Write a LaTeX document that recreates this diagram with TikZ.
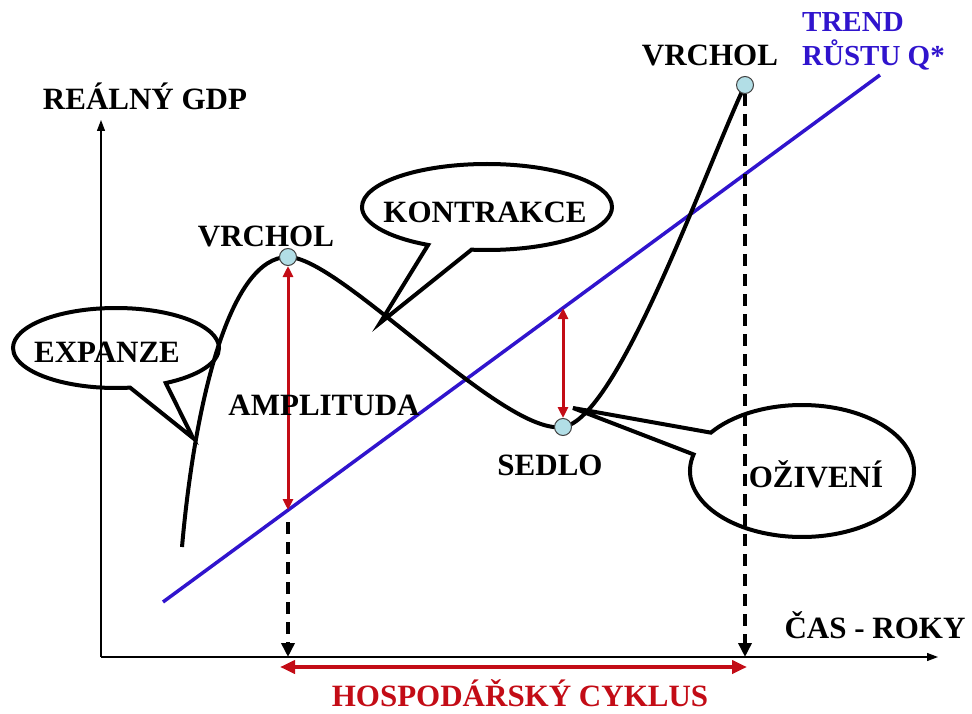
\documentclass[tikz,border=0pt]{standalone}
\usepackage{fontspec}
\setmainfont{Liberation Serif}
\usetikzlibrary{arrows.meta,shapes.callouts}
\definecolor{trendmodra}{RGB}{48,20,205}
\definecolor{cyklcervena}{RGB}{195,12,22}
\definecolor{bodmodra}{RGB}{178,222,230}
\tikzset{
  popis/.style={font=\fontsize{31}{33}\selectfont\bfseries, text height=21pt, text depth=0pt, inner sep=0pt},
  bublina/.style={ellipse callout, draw, line width=4pt, fill=white, callout pointer arc=21, inner sep=0pt},
  bod/.style={circle, draw=black!75, fill=bodmodra, line width=1pt, minimum size=17pt, inner sep=0pt},
  osa/.style={line width=1.2pt, -{Triangle[length=11pt,width=8pt]}},
  cervsipka/.style={cyklcervena, line width=3pt, {Triangle[length=11pt,width=10pt]}-{Triangle[length=11pt,width=10pt]}},
  carkovana/.style={line width=3.5pt, dash pattern=on 12pt off 8pt, -{Triangle[length=14pt,width=13pt]}}
}
\begin{document}
\begin{tikzpicture}[x=1pt, y=-1pt]
    \useasboundingbox (0,0) rectangle (972,714);

    % Body
    \coordinate (pocatek) at (101,657);
    \coordinate (yKonec) at (101,120);
    \coordinate (xKonec) at (938,657);
    \coordinate (trendA) at (163,602);
    \coordinate (trendB) at (880,75);
    \coordinate (amplDole) at (288,510);
    \coordinate (sedloNahore) at (563,308);
    \coordinate (expTip) at (193,438);
    \coordinate (konTip) at (380,323);
    \coordinate (oziTip) at (573,408);

    % Bubliny
    \node[bublina, minimum width=206pt, minimum height=80pt, callout absolute pointer={(expTip)}] (expanze) at (116,348) {};
    \node[bublina, minimum width=250pt, minimum height=86pt, callout absolute pointer={(konTip)}] (kontrakce) at (487,207) {};
    \node[bublina, minimum width=224pt, minimum height=132pt, callout absolute pointer={(oziTip)}] (oziveni) at (802,471) {};
    \node[popis] (expText) at (107,352) {EXPANZE};
    \node[popis] (konText) at (485,212) {KONTRAKCE};
    \node[popis] (oziText) at (816,477) {OŽIVENÍ};

    % Osy
    \draw[osa] (pocatek) -- (yKonec);
    \draw[osa] (pocatek) -- (xKonec);
    \node[popis] (yPopis) at (145,99) {REÁLNÝ GDP};
    \node[popis] (xPopis) at (875,628) {ČAS - ROKY};

    % Trend rustu
    \draw[trendmodra, line width=3.5pt] (trendA) -- (trendB);
    \node[popis, font=\fontsize{29}{31}\selectfont\bfseries, trendmodra, anchor=west] (trend1) at (802,21) {TREND};
    \node[popis, font=\fontsize{29}{31}\selectfont\bfseries, trendmodra, anchor=west] (trend2) at (802,55) {RŮSTU Q*};

    % Hospodarsky cyklus
    \draw[line width=4pt] (182,547) .. controls (195,400) and (230,257) .. (288,257)
      .. controls (340,257) and (503,436) .. (563,427)
      .. controls (618,419) and (705,170) .. (745,85);

    % Body na krivce
    \node[bod] (vrchol1) at (288,257) {};
    \node[bod] (sedlo) at (563,427) {};
    \node[bod] (vrchol2) at (745,85) {};
    \node[popis] (vrchol1Text) at (266,236) {VRCHOL};
    \node[popis] (vrchol2Text) at (710,55) {VRCHOL};
    \node[popis] (sedloText) at (550,465) {SEDLO};

    % Amplituda
    \draw[cervsipka] (vrchol1.south) -- (amplDole);
    \draw[cervsipka] (sedloNahore) -- (sedlo.north);
    \node[popis] (amplText) at (324,405) {AMPLITUDA};

    % Delka cyklu
    \draw[carkovana, shorten <=12pt] (amplDole) -- (amplDole |- pocatek);
    \draw[carkovana] (vrchol2.south) -- (vrchol2 |- pocatek);
    \draw[cyklcervena, line width=4pt, {Triangle[length=15pt,width=13pt]}-{Triangle[length=15pt,width=13pt]}] (280,667) coordinate (cyklA) -- (747,667) coordinate (cyklB);
    \node[popis, cyklcervena] (cyklText) at (520,696) {HOSPODÁŘSKÝ CYKLUS};
\end{tikzpicture}
\end{document}
